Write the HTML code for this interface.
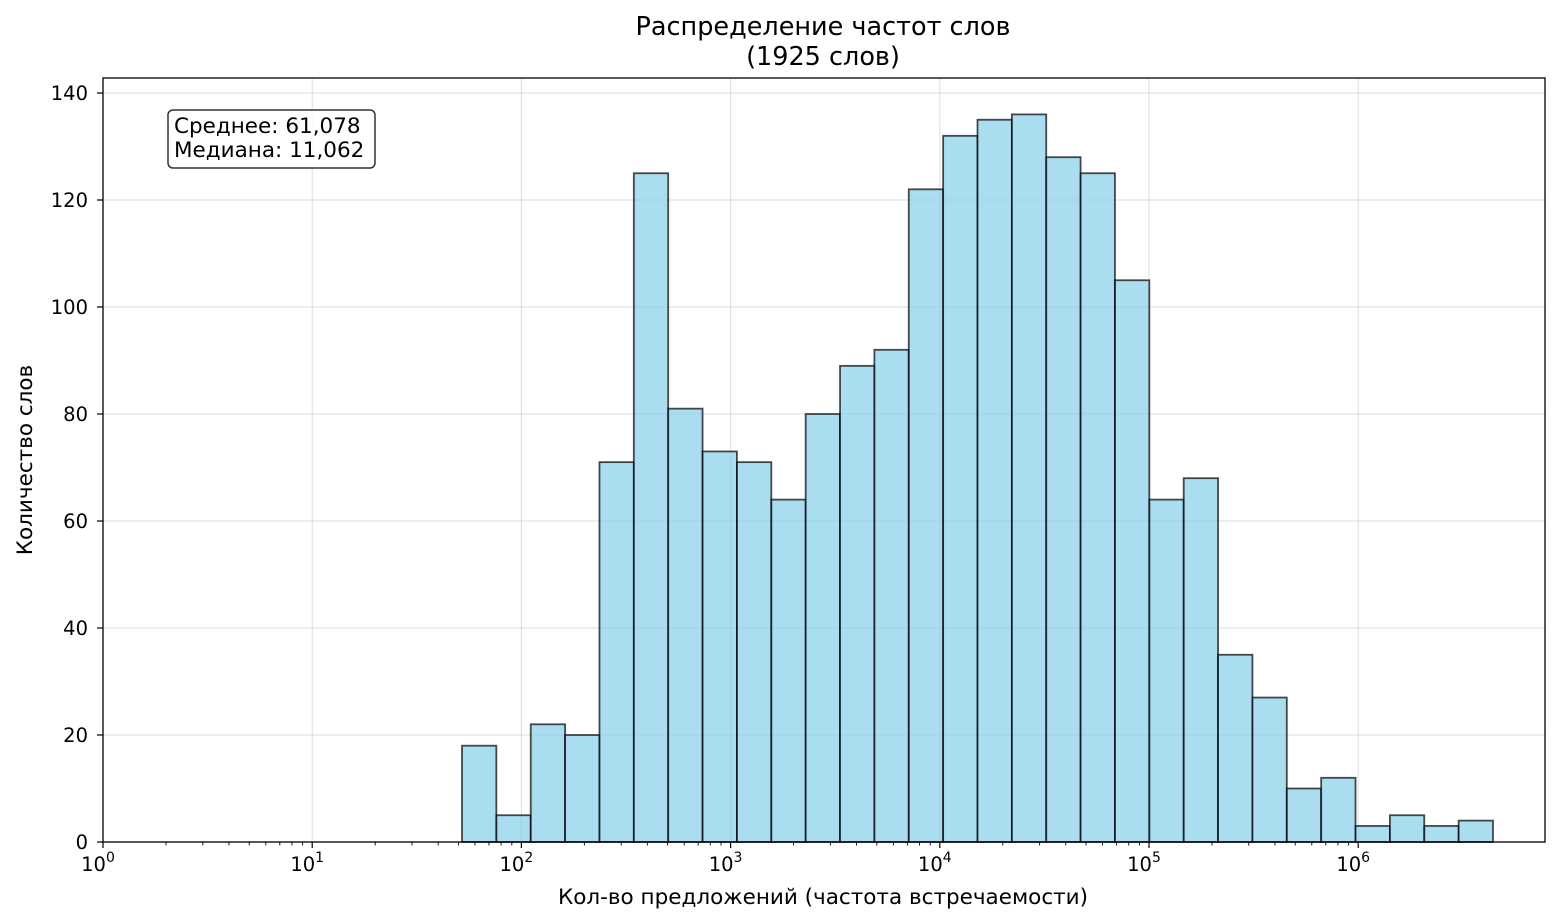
<!DOCTYPE html>
<html><head><meta charset="utf-8"><style>body{margin:0;background:#fff}svg{display:block}text{font-family:"DejaVu Sans","Liberation Sans",sans-serif;fill:#000}</style></head><body>
<svg width="1560" height="924" xmlns="http://www.w3.org/2000/svg">
<g id="grid" stroke="#b0b0b0" stroke-opacity="0.35" stroke-width="1.2"></g>
<g id="bars"></g>
<rect x="103" y="78" width="1442" height="764" fill="none" stroke="#000" stroke-width="1.3"/>
<g id="ticks"></g>
<text x="823" y="35" font-size="25.5" text-anchor="middle">Распределение частот слов</text>
<text x="823" y="65" font-size="25.5" text-anchor="middle">(1925 слов)</text>
<text x="823" y="904" font-size="21.5" text-anchor="middle">Кол-во предложений (частота встречаемости)</text>
<text transform="translate(32,460) rotate(-90)" font-size="21.5" text-anchor="middle">Количество слов</text>
<rect x="168" y="110" width="207" height="58" rx="5" fill="#fff" fill-opacity="0.8" stroke="#333" stroke-width="1.5"/>
<text x="174" y="133" font-size="21.5">Среднее: 61,078</text>
<text x="174" y="157" font-size="21.5">Медиана: 11,062</text>
<script>
const ns="http://www.w3.org/2000/svg";
function el(p,t,a,txt){const e=document.createElementNS(ns,t);for(const k in a)e.setAttribute(k,a[k]);if(txt!==undefined)e.textContent=txt;document.getElementById(p).appendChild(e);return e;}
const X0=103,D=209.2,Y0=842,S=5.35;
for(let i=0;i<=6;i++){const x=X0+i*D;el('grid','line',{x1:x,x2:x,y1:78,y2:842});
 el('ticks','line',{x1:x,x2:x,y1:842,y2:848,stroke:'#000','stroke-width':1.2});
 const t=el('ticks','text',{x:x-5,y:871,'font-size':19.5,'text-anchor':'middle'},'10');
 const s=document.createElementNS(ns,'tspan');s.setAttribute('dy',-9);s.setAttribute('font-size',14);s.textContent=i;t.appendChild(s);
 if(i<6)for(let m=2;m<10;m++){const xm=X0+(i+Math.log10(m))*D;el('ticks','line',{x1:xm,x2:xm,y1:842,y2:845.5,stroke:'#000','stroke-width':0.9});}}
for(let v=0;v<=140;v+=20){const y=Y0-v*S;el('grid','line',{x1:103,x2:1545,y1:y,y2:y});
 el('ticks','line',{x1:97,x2:103,y1:y,y2:y,stroke:'#000','stroke-width':1.2});
 el('ticks','text',{x:88,y:y+7,'font-size':19.5,'text-anchor':'end'},v);}
const vals=[18,5,22,20,71,125,81,73,71,64,80,89,92,122,132,135,136,128,125,105,64,68,35,27,10,12,3,5,3,4];
const w=(1493-462)/30;
vals.forEach((v,i)=>{el('bars','rect',{x:462+i*w,y:Y0-v*S,width:w,height:v*S,fill:'#87ceeb','fill-opacity':0.7,stroke:'#000','stroke-opacity':0.7,'stroke-width':1.8});});
</script>
</svg></body></html>
